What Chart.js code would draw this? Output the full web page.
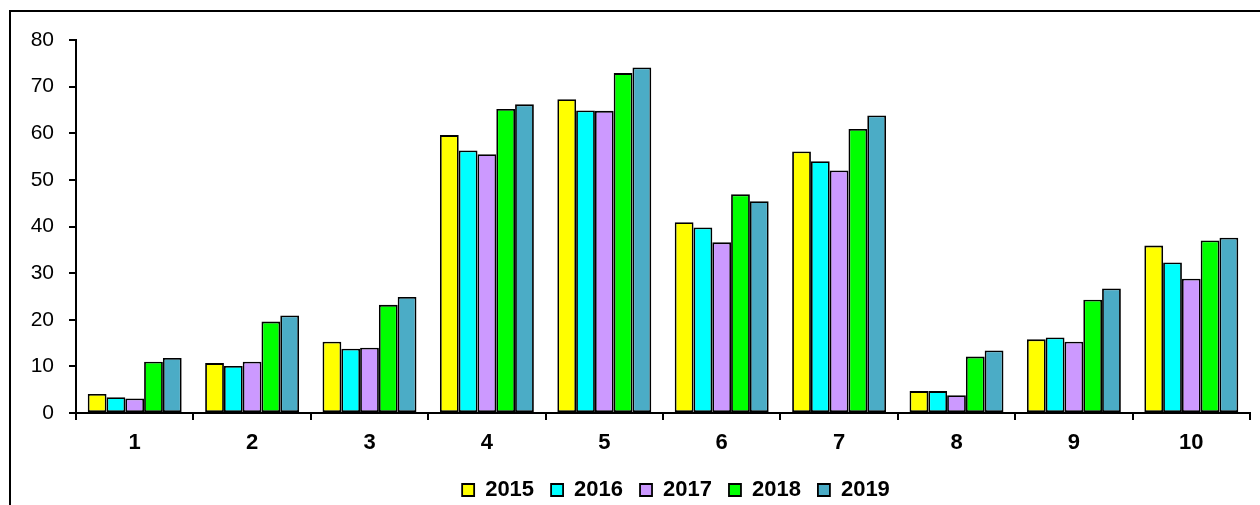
<!DOCTYPE html>
<html>
<head>
<meta charset="utf-8">
<script src="https://cdn.jsdelivr.net/npm/chart.js@4/dist/chart.umd.min.js"></script>
<style>
  html, body { margin: 0; padding: 0; background: #fff; overflow: hidden; }
  #wrap { position: relative; width: 1260px; height: 505px; overflow: hidden; }
  #frame { position: absolute; left: 9px; top: 10px; width: 1400px; height: 700px; border: 2px solid #000; box-sizing: border-box; }
  #chart { position: absolute; left: 0; top: 0; }
</style>
</head>
<body>
<div id="wrap">
  <div id="frame"></div>
  <canvas id="chart" width="1260" height="505"></canvas>
</div>
<script>
// categories and series
const categories = ['1', '2', '3', '4', '5', '6', '7', '8', '9', '10'];
const years = ['2015', '2016', '2017', '2018', '2019'];
const colors = ['#FFFF00', '#00FFFF', '#CC99FF', '#00FF00', '#4BACC6'];

const v2015 = [4.1, 10.7, 15.3, 59.6, 67.3, 40.9, 56.1, 4.7, 15.8, 35.9];
const v2016 = [3.4, 10.1, 13.8, 56.3, 64.9, 39.8, 54.0, 4.7, 16.2, 32.3];
const v2017 = [3.1, 11.0, 14.0, 55.5, 64.8, 36.6, 52.0, 3.8, 15.3, 28.8];
const v2018 = [11.0, 19.6, 23.2, 65.2, 72.9, 46.9, 60.9, 12.1, 24.3, 37.0];
const v2019 = [11.8, 20.9, 24.9, 66.2, 74.1, 45.4, 63.8, 13.4, 26.7, 37.6];

const yTicks = [0, 10, 20, 30, 40, 50, 60, 70, 80];

const seriesValues = [v2015, v2016, v2017, v2018, v2019];

const datasets = years.map(function(y, i) {
    return {
        label: y,
        data: seriesValues[i],
        backgroundColor: colors[i],
        borderColor: '#000',
        borderWidth: 1.8,
        borderSkipped: false,
        categoryPercentage: 0.8,
        barPercentage: 1.0
    };
});

// move the legend right and down, like in the original
const legendShift = {
    id: 'legendShift',
    afterLayout: function(chart) {
        const lg = chart.legend;
        lg.left += 51;
        lg.right += 51;
        lg.top += 6;
        lg.bottom += 6;
    }
};

const ctx = document.getElementById('chart').getContext('2d');
new Chart(ctx, {
    type: 'bar',
    data: { labels: categories, datasets: datasets },
    plugins: [legendShift],
    options: {
        responsive: false,
        animation: false,
        layout: { padding: { top: 40, right: 10, left: 0, bottom: 0 } },
        plugins: {
            tooltip: { enabled: false },
            legend: {
                position: 'bottom',
                labels: {
                    color: '#000',
                    font: { family: 'Arial, "Liberation Sans"', size: 22, weight: 'bold' },
                    boxWidth: 12,
                    boxHeight: 12,
                    padding: 17
                }
            }
        },
        scales: {
            x: {
                afterFit: function(scale) { scale.height = 43; },
                border: { display: true, color: '#000', width: 2 },
                grid: { offset: true, drawOnChartArea: false, drawTicks: true, tickLength: 7, color: '#000', lineWidth: 2 },
                ticks: {
                    color: '#000',
                    padding: 10,
                    font: { family: 'Arial, "Liberation Sans"', size: 22, weight: 'bold' }
                }
            },
            y: {
                min: 0,
                max: 80,
                afterFit: function(scale) { scale.width = 76; },
                afterBuildTicks: function(scale) {
                    scale.ticks = yTicks.map(function(v) { return { value: v }; });
                },
                border: { display: true, color: '#000', width: 2 },
                grid: { drawOnChartArea: false, drawTicks: true, tickLength: 7, color: '#000', lineWidth: 2 },
                ticks: {
                    color: '#000',
                    padding: 15,
                    font: { family: 'Arial, "Liberation Sans"', size: 21 }
                }
            }
        }
    }
});
</script>
</body>
</html>
